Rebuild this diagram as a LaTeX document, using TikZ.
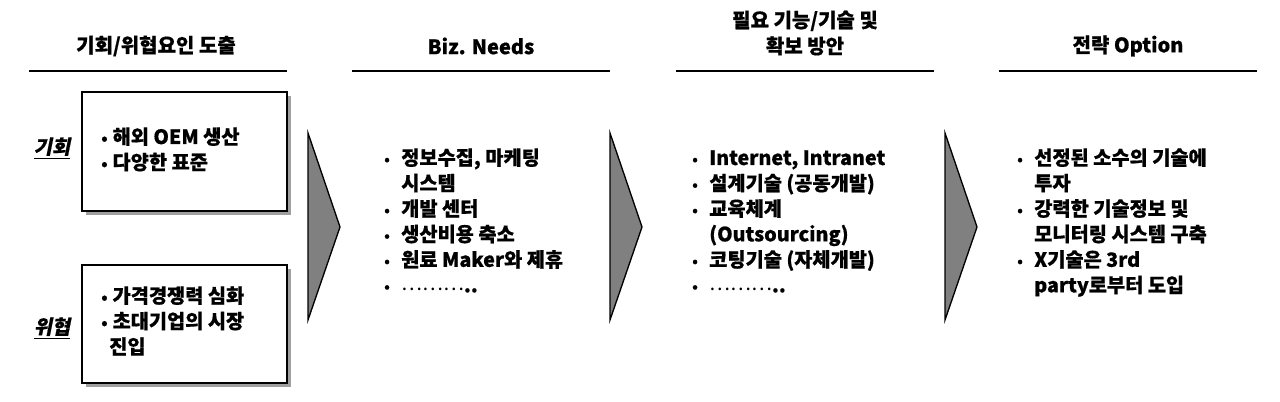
\documentclass[tikz,border=0pt]{standalone}
\usepackage{fontspec}
\setmainfont{Noto Sans CJK KR}[BoldFeatures={FakeBold=0.6}]
\newfontfamily\slantkr[FakeSlant=0.2,BoldFeatures={FakeBold=0.6}]{Noto Sans CJK KR}
\usepackage{tikz}

\tikzset{
  head/.style={font=\bfseries\fontsize{15}{19.5}\selectfont, align=center, inner sep=0pt},
  txt/.style={font=\bfseries\fontsize{14.8}{19.1}\selectfont, inner sep=0pt, anchor=base west},
  lab/.style={font=\slantkr\bfseries\fontsize{14.8}{19.1}\selectfont, inner sep=0pt},
  rule/.style={line width=1.3pt},
  card/.style={draw=black, fill=white, line width=1.1pt},
  cardshadow/.style={fill=gray!75, draw=none},
  chevron/.style={draw=black, fill=gray, line width=1pt, line join=miter},
}
\newcommand{\itm}{\makebox[12.75pt][l]{\raisebox{0.5pt}{\fontsize{10.5}{10.5}\selectfont •}}}
\newcommand{\bul}{\makebox[8.5pt][l]{\fontsize{12}{12}\selectfont •}}
\newcommand{\cnt}{\hspace*{12.75pt}}
\newcommand{\dotsline}{{\mdseries\raisebox{1.5pt}{………}}..}

\begin{document}
\begin{tikzpicture}[x=0.75pt,y=-0.75pt]
		\useasboundingbox (0,0) rectangle (1280,402);
		
		% column heads
		\node[head] (hsrc) at (156,46) {기회/위협요인 도출};
		\node[head] (hneeds) at (481,46) {Biz. Needs};
		\node[head] (hfunc) at (805,33) {필요 기능/기술 및\\확보 방안};
		\node[head] (hopt) at (1128,46) {전략 Option};
		
		% rules under the heads
		\foreach \x in {158,481,805,1128}
		\draw[rule] (\x-129,71) -- (\x+129,71);
		
		% boxes with shadow
		\foreach \t/\b in {92/211,265/383}
		{
		\fill[cardshadow] (86,\t+4) rectangle (291,\b+4);
		\draw[card] (82,\t) rectangle (287,\b);
		}
		\node[lab] (opp) at (52,148) {\underline{기회}};
		\node[lab] (thr) at (52,328) {\underline{위협}};
		\node[txt] (opptxt) at (101,144) {\begin{tabular}[t]{@{}l@{}}
			\bul 해외 OEM 생산\\
			\bul 다양한 표준
		\end{tabular}};
		\node[txt] (thrtxt) at (101,303) {\begin{tabular}[t]{@{}l@{}}
			\bul 가격경쟁력 심화\\
			\bul 초대기업의 시장\\
			\hspace*{6pt}진입
		\end{tabular}};
		
		% chevrons
		\foreach \x in {308,610,945}
		\draw[chevron] (\x,133) -- (\x+32,227) -- (\x,320) -- cycle;
		
		% lists
		\node[txt] (needs) at (384,165) {\begin{tabular}[t]{@{}l@{}}
			\itm 정보수집, 마케팅\\
			\cnt 시스템\\
			\itm 개발 센터\\
			\itm 생산비용 축소\\
			\itm 원료 Maker와 제휴\\
			\itm \dotsline
		\end{tabular}};
		\node[txt] (func) at (692,165) {\begin{tabular}[t]{@{}l@{}}
			\itm Internet, Intranet\\
			\itm 설계기술 (공동개발)\\
			\itm 교육체계\\
			\cnt (Outsourcing)\\
			\itm 코팅기술 (자체개발)\\
			\itm \dotsline
		\end{tabular}};
		\node[txt] (strat) at (1017,165) {\begin{tabular}[t]{@{}l@{}}
			\itm 선정된 소수의 기술에\\
			\cnt 투자\\
			\itm 강력한 기술정보 및\\
			\cnt 모니터링 시스템 구축\\
			\itm X기술은 3rd\\
			\cnt party로부터 도입
		\end{tabular}};
		
\end{tikzpicture}
\end{document}
